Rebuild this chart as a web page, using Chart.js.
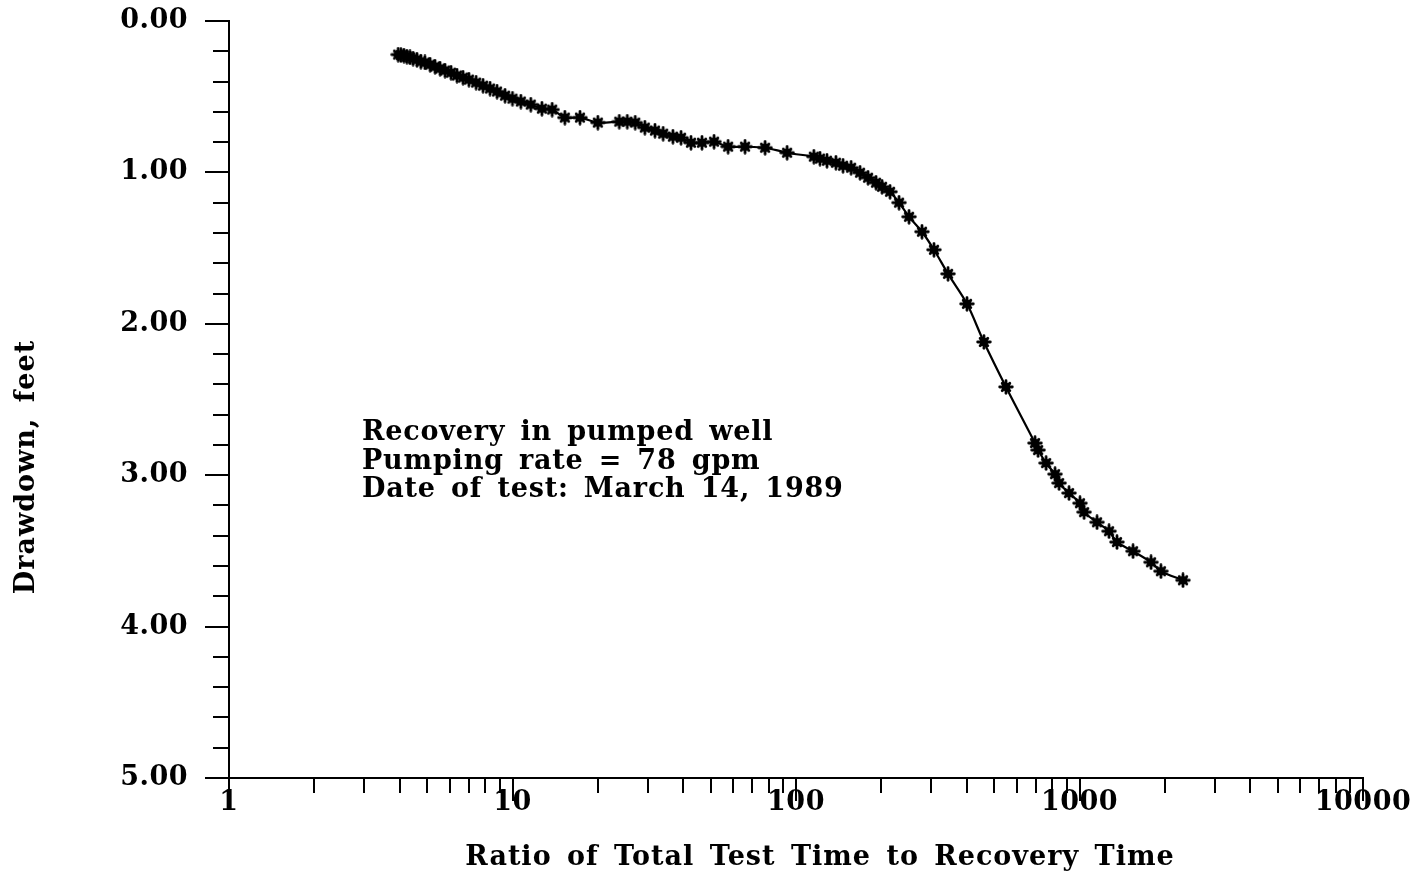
<!DOCTYPE html>
<html><head><meta charset="utf-8">
<script src="https://cdn.jsdelivr.net/npm/chart.js@4.4.0/dist/chart.umd.min.js"></script>
<style>html,body{margin:0;padding:0;background:#fff;overflow:hidden}#wrap{position:relative;width:1413px;height:877px;background:#fff}</style>
</head><body><div id="wrap"><canvas id="c" width="1413" height="877"></canvas></div>
<script>
// ---- data ----
const ratio = [3.95,4.04,4.14,4.24,4.35,4.46,4.60,4.75,4.91,5.12,5.33,5.55,5.78,6.07,6.37,6.69,7.02,7.44,7.87,8.33,8.82,9.41,10.0,10.7,11.6,12.7,13.8,15.3,17.3,20.0,23.8,25.4,27.1,29.3,31.8,34.0,36.8,39.3,42.6,46.6,51.4,57.6,66.1,77.8,93.0,115.6,121.5,128.6,138.3,146.5,156.4,168.2,179.5,191.6,201.1,214.6,230.9,250.5,278.2,306.7,343.8,401.0,460.0,550.3,697.0,714.5,762.5,819.6,847.3,918.5,1004,1038,1153,1271,1356,1545,1788,1937,2317];
const drawdown = [0.222,0.225,0.228,0.235,0.241,0.248,0.255,0.268,0.274,0.288,0.301,0.314,0.327,0.341,0.360,0.374,0.387,0.407,0.427,0.446,0.466,0.493,0.513,0.532,0.552,0.579,0.585,0.638,0.638,0.671,0.665,0.665,0.671,0.704,0.724,0.744,0.764,0.771,0.804,0.804,0.797,0.830,0.830,0.837,0.870,0.896,0.909,0.923,0.936,0.956,0.969,1.002,1.035,1.068,1.095,1.128,1.200,1.293,1.392,1.511,1.670,1.868,2.120,2.417,2.788,2.834,2.920,2.993,3.052,3.118,3.185,3.244,3.311,3.370,3.442,3.502,3.575,3.634,3.694];
const xMajorTicks = [1,10,100,1000,10000];
const xTickLabels = ['1','10','100','1000','10000'];
const yMajorTicks = [0,1,2,3,4,5];
const yTickLabels = ['0.00','1.00','2.00','3.00','4.00','5.00'];
const xTitle = 'Ratio of Total Test Time to Recovery Time';
const yTitle = 'Drawdown, feet';
const notes = ['Recovery in pumped well','Pumping rate = 78 gpm','Date of test: March 14, 1989'];

const FONT = 'DejaVu Serif';

function makeMarker(){
  const c = document.createElement('canvas'); c.width = 16; c.height = 16;
  const g = c.getContext('2d');
  g.fillStyle = '#000'; g.strokeStyle = '#000'; g.translate(8,8);
  g.beginPath(); g.arc(0,0,4.3,0,Math.PI*2); g.fill();
  g.lineWidth = 2.8; g.lineCap = 'round';
  for (let i=0;i<4;i++){
    const a = i*Math.PI/4, r = (i%2) ? 5.4 : 6.3;
    g.beginPath(); g.moveTo(-r*Math.cos(a), -r*Math.sin(a)); g.lineTo(r*Math.cos(a), r*Math.sin(a)); g.stroke();
  }
  return c;
}

const spacingPlugin = {
  id:'spacing',
  beforeUpdate(chart){ chart.ctx.letterSpacing = '0.5px'; },
  beforeDraw(chart){ chart.ctx.letterSpacing = '0.5px'; }
};

const tickPlugin = {
  id:'ticks',
  afterDraw(chart){
    const ctx = chart.ctx, xs = chart.scales.x, ys = chart.scales.y;
    const ax = chart.chartArea.left, ay = chart.chartArea.bottom;
    ctx.save();
    ctx.strokeStyle = '#000'; ctx.lineWidth = 2; ctx.lineCap = 'butt';
    for (let d=1; d<=10000; d*=10){
      const ks = d===10000 ? [1] : [1,2,3,4,5,6,7,8,9];
      for (const k of ks){
        const px = Math.round(xs.getPixelForValue(k*d));
        const len = (k===1) ? 23 : 15;
        ctx.beginPath(); ctx.moveTo(px, ay); ctx.lineTo(px, ay+len); ctx.stroke();
      }
    }
    for (let i=0;i<=25;i++){
      const py = Math.round(ys.getPixelForValue(i/5));
      const len = (i%5===0) ? 24 : 16;
      ctx.beginPath(); ctx.moveTo(ax, py); ctx.lineTo(ax-len, py); ctx.stroke();
    }
    ctx.restore();
  }
};

const textPlugin = {
  id:'texts',
  afterDraw(chart){
    const ctx = chart.ctx;
    ctx.save();
    ctx.fillStyle = '#000';
    ctx.letterSpacing = '1px';
    ctx.wordSpacing = '5px';
    ctx.font = 'bold 27px "' + FONT + '"';
    ctx.textAlign = 'center'; ctx.textBaseline = 'middle';
    ctx.fillText(xTitle, 820, 858);
    ctx.save();
    ctx.translate(27, 467); ctx.rotate(-Math.PI/2);
    ctx.fillText(yTitle, 0, 0);
    ctx.restore();
    ctx.textAlign = 'left'; ctx.textBaseline = 'alphabetic';
    ctx.letterSpacing = '0.8px';
    notes.forEach((t,i)=> ctx.fillText(t, 362, 440 + i*28.5));
    ctx.restore();
  }
};

const marker = makeMarker();
new Chart(document.getElementById('c').getContext('2d'), {
  type:'line',
  data:{ datasets:[{
    data: ratio.map((x,i)=>({x:x, y:drawdown[i]})),
    borderColor:'#000', backgroundColor:'#000', borderWidth:2.2,
    pointStyle: marker, pointRadius:6, tension:0.3, fill:false
  }]},
  options:{
    responsive:false, animation:false, devicePixelRatio:1,
    layout:{ padding:{ left:0, right:50, top:21, bottom:0 }, autoPadding:false },
    plugins:{ legend:{display:false}, tooltip:{enabled:false}, title:{display:false} },
    scales:{
      x:{
        type:'logarithmic', min:1, max:10000,
        afterFit(s){ s.height = 99; s.paddingLeft = 0; s.paddingRight = 0; },
        afterBuildTicks(s){ s.ticks = xMajorTicks.map(v=>({value:v})); },
        ticks:{ autoSkip:false, maxRotation:0, color:'#000', padding:0,
          font:{ family:FONT, weight:'bold', size:27 },
          callback:(v,i)=> xTickLabels[i] },
        grid:{ display:true, drawOnChartArea:false, drawTicks:true, tickLength:9, color:'rgba(0,0,0,0)' },
        border:{ display:true, color:'#000', width:2 }
      },
      y:{
        type:'linear', reverse:true, min:0, max:5,
        afterFit(s){ s.width = 229; s.paddingTop = 0; s.paddingBottom = 0; },
        afterBuildTicks(s){ s.ticks = yMajorTicks.map(v=>({value:v})); },
        ticks:{ autoSkip:false, color:'#000', padding:0,
          font:{ family:FONT, weight:'bold', size:27 },
          callback:(v,i)=> yTickLabels[i] },
        grid:{ display:true, drawOnChartArea:false, drawTicks:true, tickLength:41, color:'rgba(0,0,0,0)' },
        border:{ display:true, color:'#000', width:2 }
      }
    }
  },
  plugins:[spacingPlugin, tickPlugin, textPlugin]
});
</script></body></html>
